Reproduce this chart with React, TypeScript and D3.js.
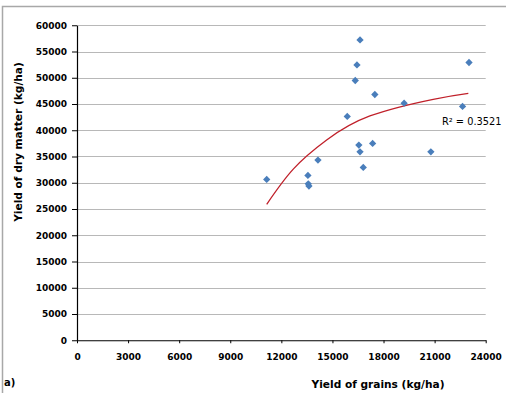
import React, { useRef, useEffect } from 'react';
import * as d3 from 'd3';

// grain yield (kg/ha) vs dry matter yield (kg/ha)
const grainYield = [16620, 16440, 23020, 16340, 17490, 19210, 22640, 15870, 16550, 17360, 16620, 20780, 14150, 16810, 11140, 13560, 13580, 13620];
const dryMatter = [57200, 52450, 52900, 49480, 46810, 45160, 44530, 42630, 37170, 37490, 35890, 35890, 34310, 32920, 30640, 31400, 29800, 29360];

// fitted trend line as drawn by the spreadsheet
const trendX = [11140, 12700, 14660, 17200, 20920, 22980];
const trendY = [25900, 32600, 38140, 42720, 45900, 47040];

const xTicks = [0, 3000, 6000, 9000, 12000, 15000, 18000, 21000, 24000];
const yTicks = [0, 5000, 10000, 15000, 20000, 25000, 30000, 35000, 40000, 45000, 50000, 55000, 60000];

const rSquared = 'R² = 0.3521';
const FONT = '"DejaVu Sans", sans-serif';

export default function App() {
  const svgRef = useRef<SVGSVGElement>(null);

  useEffect(() => {
    const svg = d3.select(svgRef.current);
    svg.selectAll('*').remove();

    const width = 506;
    const height = 393;
    svg.attr('width', width).attr('height', height);

    const x = d3.scaleLinear().domain([0, 24000]).range([77, 485.7]);
    const y = d3.scaleLinear().domain([0, 60000]).range([340.25, 25.25]);

    // white background + chart frame
    svg.append('rect').attr('width', width).attr('height', height).attr('fill', '#fff');
    svg.append('rect')
      .attr('x', 2.5).attr('y', 6.5).attr('width', 700).attr('height', 600)
      .attr('fill', 'none').attr('stroke', '#a8a8a8').attr('stroke-width', 1.5);

    // horizontal gridlines
    svg.append('g')
      .selectAll('line')
      .data(yTicks.filter(t => t > 0))
      .enter()
      .append('line')
      .attr('x1', x(0)).attr('x2', x(24000))
      .attr('y1', d => Math.round(y(d)) + 0.5).attr('y2', d => Math.round(y(d)) + 0.5)
      .attr('stroke', '#b8b8b8').attr('stroke-width', 1);

    // axes
    const yAxis = svg.append('g')
      .attr('transform', `translate(${x(0)},0)`)
      .call(d3.axisLeft(y).tickValues(yTicks).tickSize(5).tickPadding(5).tickSizeOuter(0).tickFormat(d => String(d)));
    const xAxis = svg.append('g')
      .attr('transform', `translate(0,${y(0)})`)
      .call(d3.axisBottom(x).tickValues(xTicks).tickSize(3).tickPadding(10).tickSizeOuter(0).tickFormat(d => String(d)));

    [yAxis, xAxis].forEach(a => {
      a.select('.domain').attr('stroke', '#000').attr('stroke-width', 1.2);
      a.selectAll('.tick line').attr('stroke', '#000');
      a.selectAll('.tick text')
        .attr('fill', '#000').attr('font-family', FONT).attr('font-weight', 'bold').attr('font-size', '9px');
    });

    // trend line
    const line = d3.line<number>()
      .x((_, i) => x(trendX[i]))
      .y(d => y(d))
      .curve(d3.curveNatural);
    svg.append('path')
      .attr('d', line(trendY))
      .attr('fill', 'none').attr('stroke', '#c0202a').attr('stroke-width', 1.3);

    // data points (diamonds)
    const diamond = d3.symbol().type(d3.symbolDiamond2).size(34);
    svg.append('g')
      .selectAll('path')
      .data(grainYield)
      .enter()
      .append('path')
      .attr('d', diamond)
      .attr('transform', (d, i) => `translate(${x(d)},${y(dryMatter[i])})`)
      .attr('fill', '#4a7ebb');

    // R² label
    svg.append('text')
      .attr('x', 442).attr('y', 125)
      .attr('font-family', FONT).attr('font-size', '9.8px').attr('fill', '#000')
      .text(rSquared);

    // axis titles
    svg.append('text')
      .attr('transform', 'translate(22,142) rotate(-90)')
      .attr('text-anchor', 'middle')
      .attr('font-family', FONT).attr('font-weight', 'bold').attr('font-size', '10.6px').attr('fill', '#000')
      .text('Yield of dry matter (kg/ha)');
    svg.append('text')
      .attr('x', 378).attr('y', 387.5)
      .attr('text-anchor', 'middle')
      .attr('font-family', FONT).attr('font-weight', 'bold').attr('font-size', '10.6px').attr('fill', '#000')
      .text('Yield of grains (kg/ha)');

    svg.append('text')
      .attr('x', 4).attr('y', 386)
      .attr('font-family', FONT).attr('font-weight', 'bold').attr('font-size', '10px').attr('fill', '#000')
      .text('a)');
  }, []);

  return (
    <div style={{ position: 'absolute', left: 0, top: 0 }}>
      <svg ref={svgRef} style={{ display: 'block' }} />
    </div>
  );
}
